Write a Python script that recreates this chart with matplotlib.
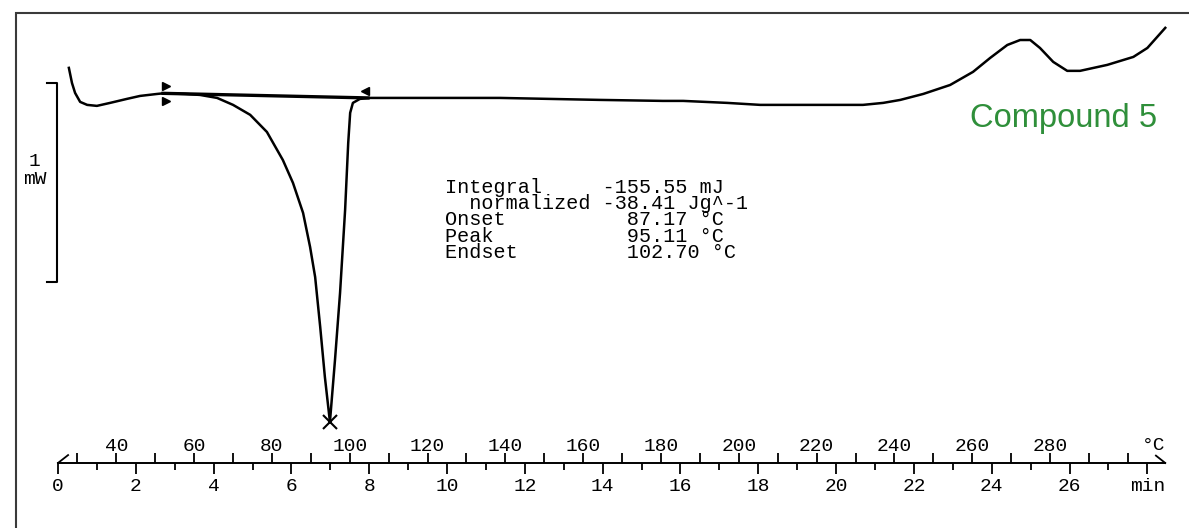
import matplotlib
matplotlib.use("Agg")
import matplotlib.pyplot as plt
import matplotlib.ticker as mticker
import matplotlib.transforms as mtransforms
from matplotlib.patches import Rectangle
import numpy as np

plt.rcParams['font.family'] = ['Liberation Mono', 'DejaVu Sans Mono']

# DSC trace (time in min, heat flow in mW)
time_min = [0.28, 0.36, 0.44, 0.57, 0.75, 1.00, 1.34, 1.77, 2.11, 2.55, 2.70,
            3.27, 3.65, 4.09, 4.50, 4.94, 5.37, 5.78, 6.04, 6.30, 6.48, 6.61,
            6.74, 6.86, 6.99, 7.12, 7.25, 7.38, 7.46, 7.51, 7.58, 7.76, 8.02,
            9.31, 11.36, 13.93, 15.55, 16.07, 17.20, 18.05, 20.69, 21.21,
            21.65, 22.24, 22.93, 23.52, 23.96, 24.40, 24.73, 24.99, 25.24,
            25.58, 25.94, 26.27, 26.97, 27.64, 28.00, 28.46]
heat_flow_mW = [0.146, 0.070, 0.020, -0.025, -0.040, -0.045, -0.030, -0.010,
                0.005, 0.015, 0.018, 0.015, 0.010, -0.005, -0.040, -0.090,
                -0.176, -0.317, -0.432, -0.583, -0.754, -0.905, -1.156,
                -1.407, -1.633, -1.322, -0.985, -0.568, -0.231, -0.080,
                -0.030, -0.010, -0.005, -0.005, -0.005, -0.015, -0.020,
                -0.020, -0.030, -0.040, -0.040, -0.030, -0.015, 0.015, 0.060,
                0.126, 0.196, 0.261, 0.286, 0.286, 0.246, 0.176, 0.131,
                0.131, 0.161, 0.201, 0.246, 0.347]

# integration limits and the straight baseline between them
limit_time = [2.70, 7.97]
limit_flow = [0.018, -0.005]

result_lines = [
    "Integral     -155.55 mJ",
    "  normalized -38.41 Jg^-1",
    "Onset          87.17 °C",
    "Peak           95.11 °C",
    "Endset         102.70 °C",
]

# time / temperature ruler
time_major = list(range(0, 29, 2))
time_minor = list(range(0, 29))
time_labels = [str(v) for v in range(0, 27, 2)] + ["min"]
temp_major = list(range(40, 281, 20))
temp_minor = list(range(30, 301, 10))
start_temp = 25.0
heating_rate = 10.0
ruler_end = 28.46

scale_top = 0.07  # 1 mW scale bar

fig = plt.figure(figsize=(11.89, 5.28), dpi=100)
ax = fig.add_axes([0, 0, 1, 1])
ax.set_xlim(-1.49, 29.07)
ax.set_ylim(-2.166, 0.487)
ax.axis('off')

ax.plot(time_min, heat_flow_mW, color='black', lw=1.8, solid_joinstyle='round')
ax.plot(limit_time, limit_flow, color='black', lw=2.4)

i_peak = int(np.argmin(heat_flow_mW))
ax.plot(time_min[i_peak], heat_flow_mW[i_peak], 'x', color='black', ms=10, mew=1.5)

# limit markers
for dy in (5.5, -5.5):
    tr = mtransforms.offset_copy(ax.transData, fig, x=2.5, y=dy, units='points')
    ax.plot(limit_time[0], limit_flow[0], '>', color='black', ms=6, transform=tr)
tr = mtransforms.offset_copy(ax.transData, fig, x=-2, y=5, units='points')
ax.plot(limit_time[1], limit_flow[1], '<', color='black', ms=6, transform=tr)

# scale bar
ax.plot([-0.28, -0.03, -0.03, -0.28], [scale_top, scale_top, scale_top - 1, scale_top - 1],
        color='black', lw=1.5)
ax.text(-0.6, scale_top - 0.44, "1\nmW", ha='center', va='center', fontsize=14,
        linespacing=1.05)

ax.text(9.95, -0.405, "\n".join(result_lines), ha='left', va='top', fontsize=14.5,
        linespacing=0.83)

ax.text(0.8945, 0.7595, "Compound 5", transform=ax.transAxes, ha='center', va='baseline',
        fontsize=23.5, color='#2f8f3a', family='Liberation Sans')

# ruler
y_axis = 0.1231
rax = fig.add_axes([0, y_axis, 1, 1e-4])
rax.set_xlim(ax.get_xlim())
rax.patch.set_visible(False)
rax.set_yticks([])
for s in ('left', 'right', 'top'):
    rax.spines[s].set_visible(False)
rax.spines['bottom'].set_bounds(0, ruler_end)
rax.spines['bottom'].set_linewidth(1.4)
rax.xaxis.set_major_locator(mticker.FixedLocator(time_major))
rax.xaxis.set_major_formatter(mticker.FixedFormatter(time_labels))
rax.xaxis.set_minor_locator(mticker.FixedLocator(time_minor))
rax.tick_params(axis='x', which='major', direction='out', length=8, width=1.3,
                labelsize=14, pad=3)
rax.tick_params(axis='x', which='minor', direction='out', length=5, width=1.3)

sec = rax.secondary_xaxis('top', functions=(lambda t: start_temp + heating_rate * t,
                                            lambda T: (T - start_temp) / heating_rate))
for s in sec.spines.values():
    s.set_visible(False)
sec.set_xticks(temp_major)
sec.xaxis.set_minor_locator(mticker.FixedLocator(temp_minor))
sec.tick_params(axis='x', which='both', direction='out', length=7, width=1.3,
                labelsize=14, pad=-1)

btr = mtransforms.blended_transform_factory(ax.transData, ax.transAxes)
ax.plot([0, 0.26], [y_axis, y_axis + 0.015], color='black', lw=1.3, transform=btr)
ax.plot([ruler_end - 0.24, ruler_end], [y_axis + 0.014, y_axis], color='black', lw=1.3,
        transform=btr)
ax.text(ruler_end - 0.3, y_axis + 0.033, "°C", ha='center', va='center', fontsize=14,
        transform=btr)

# frame
fig.add_artist(Rectangle((16 / 1189, -0.5), 2, 0.5 + 515 / 528, transform=fig.transFigure,
                         fill=False, ec='#3a3a3a', lw=1.5))

fig.savefig("out.png", dpi=100)
